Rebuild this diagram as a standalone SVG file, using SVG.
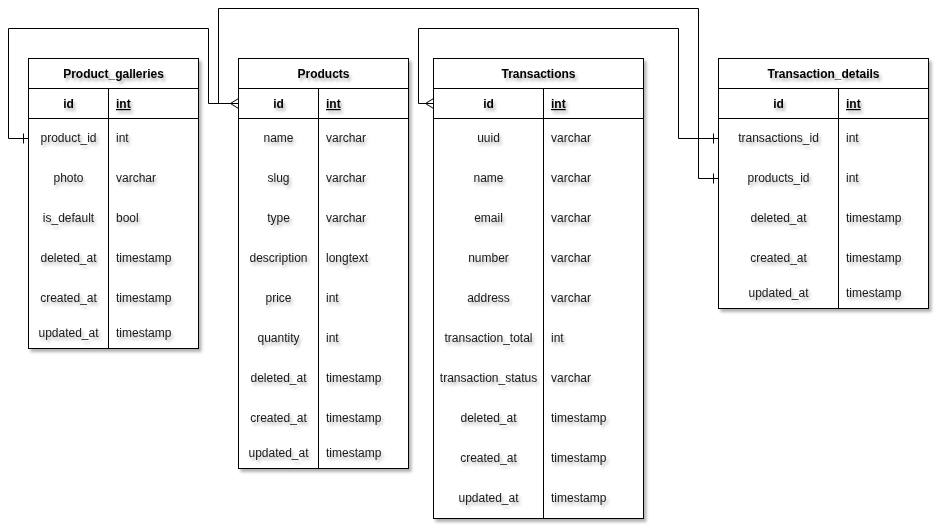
<svg xmlns="http://www.w3.org/2000/svg" width="940" height="530" viewBox="0 0 940 530">
<defs>
<filter id="sh" x="-10%" y="-10%" width="130%" height="130%">
<feDropShadow dx="2.5" dy="3" stdDeviation="1.6" flood-color="#000" flood-opacity="0.3"/>
</filter>
<filter id="tsh" x="-20%" y="-30%" width="150%" height="180%">
<feDropShadow dx="2" dy="3" stdDeviation="1.4" flood-color="#000" flood-opacity="0.3"/>
</filter>
</defs>
<style>
.box{fill:#fff;stroke:#000;stroke-width:1;filter:url(#sh)}
.ln{stroke:#000;stroke-width:1;fill:none}
text{font-family:"Liberation Sans",Arial,sans-serif;font-size:12px;fill:#1a1a1a;filter:url(#tsh)}
.h{font-weight:bold;text-anchor:middle;fill:#000}
.k{text-anchor:middle}
.pk{font-weight:bold;text-anchor:middle;fill:#000}
.pt{font-weight:bold;text-decoration:underline;fill:#000}
.c{stroke:#000;stroke-width:1;fill:none}
</style>

<g id="product_galleries">
<rect class="box" x="28.5" y="58.5" width="170" height="290"/>
<path class="ln" d="M28.5,88.5H198.5M28.5,118.5H198.5M108.5,88.5V348.5"/>
<text class="h" x="113.5" y="78">Product_galleries</text>
<text class="pk" x="68.5" y="108">id</text><text class="pt" x="116" y="108">int</text>
<text class="k" x="68.5" y="142">product_id</text><text x="116" y="142">int</text>
<text class="k" x="68.5" y="182">photo</text><text x="116" y="182">varchar</text>
<text class="k" x="68.5" y="222">is_default</text><text x="116" y="222">bool</text>
<text class="k" x="68.5" y="262">deleted_at</text><text x="116" y="262">timestamp</text>
<text class="k" x="68.5" y="302">created_at</text><text x="116" y="302">timestamp</text>
<text class="k" x="68.5" y="337">updated_at</text><text x="116" y="337">timestamp</text>
</g>

<g id="products">
<rect class="box" x="238.5" y="58.5" width="170" height="410"/>
<path class="ln" d="M238.5,88.5H408.5M238.5,118.5H408.5M318.5,88.5V468.5"/>
<text class="h" x="323.5" y="78">Products</text>
<text class="pk" x="278.5" y="108">id</text><text class="pt" x="326" y="108">int</text>
<text class="k" x="278.5" y="142">name</text><text x="326" y="142">varchar</text>
<text class="k" x="278.5" y="182">slug</text><text x="326" y="182">varchar</text>
<text class="k" x="278.5" y="222">type</text><text x="326" y="222">varchar</text>
<text class="k" x="278.5" y="262">description</text><text x="326" y="262">longtext</text>
<text class="k" x="278.5" y="302">price</text><text x="326" y="302">int</text>
<text class="k" x="278.5" y="342">quantity</text><text x="326" y="342">int</text>
<text class="k" x="278.5" y="382">deleted_at</text><text x="326" y="382">timestamp</text>
<text class="k" x="278.5" y="422">created_at</text><text x="326" y="422">timestamp</text>
<text class="k" x="278.5" y="457">updated_at</text><text x="326" y="457">timestamp</text>
</g>

<g id="transactions">
<rect class="box" x="433.5" y="58.5" width="210" height="460"/>
<path class="ln" d="M433.5,88.5H643.5M433.5,118.5H643.5M543.5,88.5V518.5"/>
<text class="h" x="538.5" y="78">Transactions</text>
<text class="pk" x="488.5" y="108">id</text><text class="pt" x="551" y="108">int</text>
<text class="k" x="488.5" y="142">uuid</text><text x="551" y="142">varchar</text>
<text class="k" x="488.5" y="182">name</text><text x="551" y="182">varchar</text>
<text class="k" x="488.5" y="222">email</text><text x="551" y="222">varchar</text>
<text class="k" x="488.5" y="262">number</text><text x="551" y="262">varchar</text>
<text class="k" x="488.5" y="302">address</text><text x="551" y="302">varchar</text>
<text class="k" x="488.5" y="342">transaction_total</text><text x="551" y="342">int</text>
<text class="k" x="488.5" y="382">transaction_status</text><text x="551" y="382">varchar</text>
<text class="k" x="488.5" y="422">deleted_at</text><text x="551" y="422">timestamp</text>
<text class="k" x="488.5" y="462">created_at</text><text x="551" y="462">timestamp</text>
<text class="k" x="488.5" y="502">updated_at</text><text x="551" y="502">timestamp</text>
</g>

<g id="transaction_details">
<rect class="box" x="718.5" y="58.5" width="210" height="250"/>
<path class="ln" d="M718.5,88.5H928.5M718.5,118.5H928.5M838.5,88.5V308.5"/>
<text class="h" x="823.5" y="78">Transaction_details</text>
<text class="pk" x="778.5" y="108">id</text><text class="pt" x="846" y="108">int</text>
<text class="k" x="778.5" y="142">transactions_id</text><text x="846" y="142">int</text>
<text class="k" x="778.5" y="182">products_id</text><text x="846" y="182">int</text>
<text class="k" x="778.5" y="222">deleted_at</text><text x="846" y="222">timestamp</text>
<text class="k" x="778.5" y="262">created_at</text><text x="846" y="262">timestamp</text>
<text class="k" x="778.5" y="297">updated_at</text><text x="846" y="297">timestamp</text>
</g>

<g id="connectors">
<path class="c" d="M238.5,103.5H208.5V28.5H8.5V138.5H28.5"/>
<path class="c" d="M238.5,98.5L230.5,103.5L238.5,108.5"/>
<path class="c" d="M23.5,133.5V143.5"/>
<path class="c" d="M230.5,103.5H218.5V8.5H698.5V178.5H718.5"/>
<path class="c" d="M713.5,173.5V183.5"/>
<path class="c" d="M433.5,103.5H418.5V28.5H678.5V138.5H718.5"/>
<path class="c" d="M433.5,98.5L425.5,103.5L433.5,108.5"/>
<path class="c" d="M713.5,133.5V143.5"/>
</g>
</svg>
